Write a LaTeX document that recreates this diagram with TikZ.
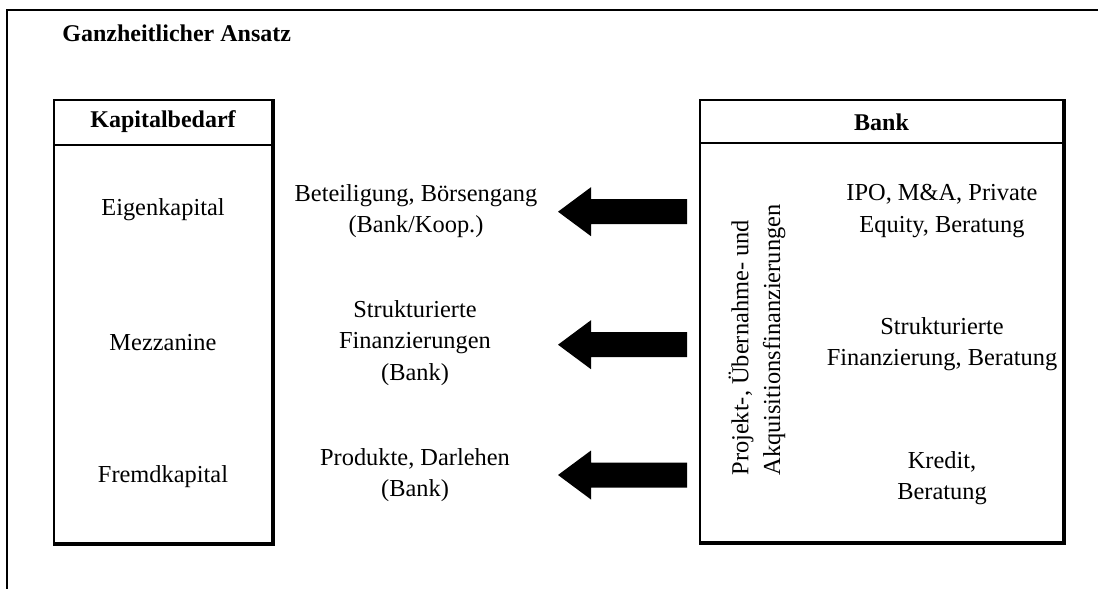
\documentclass[tikz,border=0pt]{standalone}
\usepackage{fontspec}
\setmainfont{Liberation Serif}
\usetikzlibrary{calc}
\begin{document}
\begin{tikzpicture}[x=0.5pt,y=-0.5pt,
  txt/.style={font=\fontsize{12.2}{15.8}\selectfont, align=center, inner sep=0pt},
  headtxt/.style={font=\fontsize{12}{14}\selectfont\bfseries, inner sep=0pt},
  frameline/.style={line width=1pt},
  panel/.style={draw, line width=1pt, fill=white, inner sep=0pt},
  fatarrow/.pic={\fill (0,0) -- (33,24.5) -- (33,12.5) -- (129,12.5) -- (129,-12.5) -- (33,-12.5) -- (33,-24.5) -- cycle;}]
\useasboundingbox (0,0) rectangle (1098,589);

% outer frame (top and left edges)
\draw[frameline] (7,589) -- (7,10) -- (1098,10);
\node[headtxt, anchor=west] (title) at (62,33) {Ganzheitlicher Ansatz};

% left panel: capital demand
\node[panel, minimum width=109pt, minimum height=221.5pt] (kb) at (163,321.5) {};
\draw[line width=1pt] ([xshift=0.6pt]kb.north east) -- ([xshift=0.6pt,yshift=-0.6pt]kb.south east) -- ([yshift=-0.6pt]kb.south west);
\coordinate (sepl) at (0,145);
\draw[line width=1pt] (kb.west |- sepl) -- (kb.east |- sepl);
\node[headtxt] (kbh) at (163,122) {Kapitalbedarf};
\node[txt] (eigen) at (163,210) {Eigenkapital};
\node[txt] (mezz) at (163,343) {Mezzanine};
\node[txt] (fremd) at (163,477) {Fremdkapital};

% right panel: bank
\node[panel, minimum width=181.5pt, minimum height=221pt] (bank) at (881.5,321) {};
\draw[line width=1pt] ([xshift=0.6pt]bank.north east) -- ([xshift=0.6pt,yshift=-0.6pt]bank.south east) -- ([yshift=-0.6pt]bank.south west);
\coordinate (sepr) at (0,143);
\draw[line width=1pt] (bank.west |- sepr) -- (bank.east |- sepr);
\node[headtxt] (bankh) at (881.5,122) {Bank};
\node[txt, rotate=90, align=left] (proj) at (757,340) {Projekt-, Übernahme- und\\Akquisitionsfinanzierungen};
\node[txt] (r1) at (942,211) {IPO, M\&A, Private\\Equity, Beratung};
\node[txt] (r2) at (942,344) {Strukturierte\\Finanzierung, Beratung};
\node[txt] (r3) at (942,478) {Kredit,\\Beratung};

% middle column: instruments
\node[txt] (mid1) at (416,211) {Beteiligung, Börsengang\\(Bank/Koop.)};
\node[txt] (mid2) at (415,343) {Strukturierte\\Finanzierungen\\(Bank)};
\node[txt] (mid3) at (415,475) {Produkte, Darlehen\\(Bank)};

% arrows from the bank to the instruments
\pic at ($(bank.west |- r1)+(-141,0.7)$) {fatarrow};
\pic at ($(bank.west |- r2)+(-141,0.7)$) {fatarrow};
\pic at ($(bank.west |- mid3)+(-141,0)$) {fatarrow};
\end{tikzpicture}
\end{document}
